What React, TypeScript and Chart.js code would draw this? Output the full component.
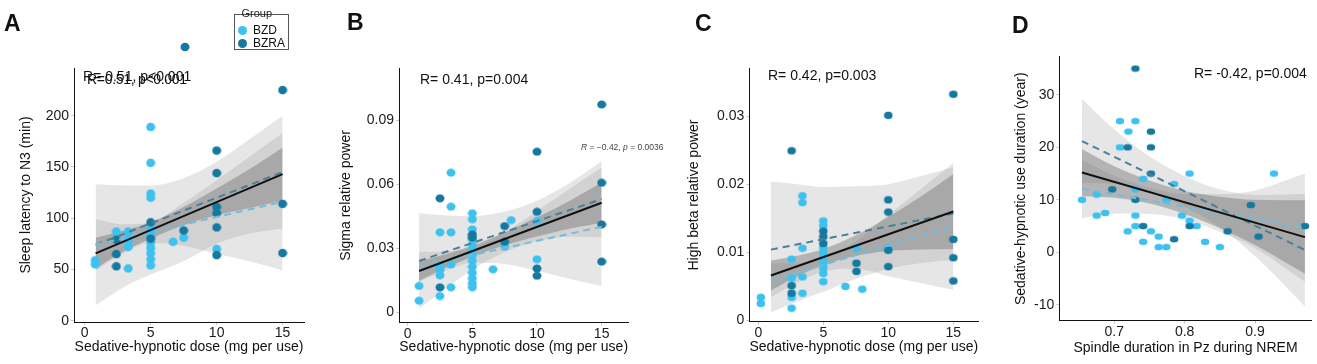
import React, { useEffect, useRef } from "react";
import { Chart, registerables } from "chart.js";
Chart.register(...registerables);

const FONT = "'Liberation Sans', Arial, Helvetica, sans-serif";
const BZD_COLOR = "#3DC1EF";
const BZRA_COLOR = "#15789F";

// ---------------- Panel A : Sleep latency to N3 ----------------
const A_BZD_X = [0.8, 0.8, 2.4, 3.3, 3.3, 3.3, 3.3, 3.3, 5, 5, 5, 5, 5, 5, 5, 5, 5, 5, 5, 5, 6.7, 7.5, 10];
const A_BZD_Y = [59, 55, 87, 87, 83, 77, 72, 51, 189, 154, 124, 120, 90, 86, 82, 76, 71, 66, 60, 54, 77, 81, 70];
const A_BZRA_X = [2.4, 2.4, 2.4, 5, 5, 7.5, 7.6, 10, 10, 10, 10, 10, 10, 15, 15, 15];
const A_BZRA_Y = [79, 65, 53, 96, 80, 88, 267, 166, 144, 111, 105, 91, 64, 225, 114, 66];
const A_FIT_X = [0.83, 15];
const A_FIT_ALL = [65.7, 143];
const A_FIT_BZD = [74, 116];
const A_FIT_BZRA = [74, 145];
const A_BAND_X = [0.83, 3, 5, 7.5, 10, 12.5, 15];
const A_BZRA_HI = [133, 132, 132, 139, 155, 177, 200];
const A_BZRA_LO = [15, 33, 45, 58, 75, 85, 90];
const A_BZD_HI = [99, 94, 96, 115, 137, 160, 183];
const A_BZD_LO = [49, 66, 76, 73, 65, 58, 49];
const A_ALL_HI = [81, 88, 96, 111, 129, 148, 169];
const A_ALL_LO = [51, 68, 80, 93, 103, 110, 117];
const A_X_TICKS = [0, 5, 10, 15];
const A_Y_TICKS = [0, 50, 100, 150, 200];

// ---------------- Panel B : Sigma relative power ----------------
const B_BZD_X = [0.88, 0.88, 2.5, 2.5, 2.5, 2.5, 2.5, 3.35, 3.35, 3.35, 3.35, 3.35, 5, 5, 5, 5, 5, 5, 5, 5, 5, 5, 5, 5, 5, 6.6, 7.5, 8, 10, 10];
const B_BZD_Y = [0.0124, 0.0055, 0.0375, 0.0219, 0.0199, 0.0174, 0.0077, 0.0654, 0.0495, 0.0375, 0.0225, 0.0118, 0.0464, 0.0436, 0.0389, 0.0342, 0.0316, 0.0292, 0.0269, 0.0242, 0.0214, 0.0186, 0.016, 0.0136, 0.0118, 0.0202, 0.0308, 0.0432, 0.0428, 0.0249];
const B_BZRA_X = [2.5, 2.5, 5, 5, 7.5, 7.5, 10, 10, 10, 10, 15, 15, 15, 15];
const B_BZRA_Y = [0.0534, 0.0118, 0.0365, 0.0351, 0.0404, 0.0331, 0.0752, 0.0471, 0.0206, 0.0172, 0.0973, 0.0607, 0.0412, 0.0238];
const B_FIT_X = [0.88, 15];
const B_FIT_ALL = [0.0194, 0.0513];
const B_FIT_BZD = [0.0214, 0.0401];
const B_FIT_BZRA = [0.0241, 0.053];
const B_BAND_X = [0.88, 3, 5, 7.5, 10, 12.5, 15];
const B_BZRA_HI = [0.0464, 0.0454, 0.045, 0.0472, 0.0523, 0.0604, 0.0708];
const B_BZRA_LO = [0.0018, 0.0114, 0.02, 0.0282, 0.0333, 0.0354, 0.0352];
const B_BZD_HI = [0.0284, 0.0287, 0.0305, 0.0377, 0.0475, 0.0578, 0.0678];
const B_BZD_LO = [0.0144, 0.0197, 0.0233, 0.0227, 0.0195, 0.0158, 0.0124];
const B_ALL_HI = [0.0239, 0.0274, 0.0313, 0.0374, 0.0445, 0.0522, 0.0608];
const B_ALL_LO = [0.0149, 0.021, 0.0261, 0.0314, 0.0355, 0.0392, 0.0418];
const B_X_TICKS = [0, 5, 10, 15];
const B_Y_TICKS = [0, 0.03, 0.06, 0.09];

// ---------------- Panel C : High beta relative power ----------------
const C_BZD_X = [0.2, 0.2, 2.56, 2.56, 2.56, 2.56, 3.4, 3.4, 3.4, 3.4, 3.4, 5, 5, 5, 5, 5, 5, 5, 5, 5, 6.7, 7.55, 8, 10];
const C_BZD_Y = [0.0034, 0.0025, 0.009, 0.0062, 0.0034, 0.0018, 0.0183, 0.0173, 0.0106, 0.0064, 0.004, 0.0146, 0.0139, 0.0107, 0.0099, 0.0091, 0.0084, 0.0077, 0.0069, 0.0057, 0.005, 0.0106, 0.0046, 0.0107];
const C_BZRA_X = [2.56, 2.56, 2.56, 5, 5, 5, 7.55, 7.55, 10, 10, 10, 10, 10, 15, 15, 15, 15];
const C_BZRA_Y = [0.0249, 0.0051, 0.004, 0.0131, 0.0123, 0.0113, 0.0084, 0.0072, 0.0301, 0.0177, 0.0159, 0.0103, 0.0079, 0.0332, 0.0119, 0.0092, 0.0058];
const C_FIT_X = [0.97, 15];
const C_FIT_ALL = [0.0066, 0.016];
const C_FIT_BZD = [0.0059, 0.0138];
const C_FIT_BZRA = [0.0104, 0.0157];
const C_BAND_X = [0.97, 3, 5, 7.5, 10, 12.5, 15];
const C_BZRA_HI = [0.0204, 0.02, 0.0196, 0.0197, 0.02, 0.0212, 0.0225];
const C_BZRA_LO = [0.0012, 0.0028, 0.0042, 0.0061, 0.0076, 0.0084, 0.0089];
const C_BZD_HI = [0.0084, 0.0084, 0.0092, 0.0116, 0.0155, 0.0193, 0.0231];
const C_BZD_LO = [0.0034, 0.0056, 0.0072, 0.0076, 0.0065, 0.0055, 0.0045];
const C_ALL_HI = [0.0088, 0.0095, 0.0105, 0.0125, 0.0152, 0.0182, 0.0215];
const C_ALL_LO = [0.0044, 0.0065, 0.0081, 0.0095, 0.0102, 0.0104, 0.0105];
const C_X_TICKS = [0, 5, 10, 15];
const C_Y_TICKS = [0, 0.01, 0.02, 0.03];

// ---------------- Panel D : use duration vs spindle duration ----------------
const D_BZD_X = [0.654, 0.675, 0.675, 0.687, 0.708, 0.708, 0.72, 0.719, 0.73, 0.73, 0.73, 0.73, 0.741, 0.741, 0.752, 0.763, 0.763, 0.774, 0.774, 0.785, 0.796, 0.807, 0.807, 0.817, 0.829, 0.85, 0.927];
const D_BZD_Y = [10, 11, 7, 7.5, 25, 20, 23, 4, 25, 12, 7, 5, 14, 2, 4, 3, 1, 1, 10, 13, 7, 15, 6, 5, 2, 1, 15];
const D_BZRA_X = [0.73, 0.719, 0.697, 0.73, 0.741, 0.752, 0.752, 0.752, 0.785, 0.807, 0.861, 0.894, 0.905, 0.971];
const D_BZRA_Y = [35, 20, 12, 10, 5, 23, 20, 15, 2.5, 5, 4, 9, 3, 5];
const D_FIT_X = [0.654, 0.971];
const D_FIT_ALL = [15.2, 2.9];
const D_FIT_BZD = [12.1, 4.7];
const D_FIT_BZRA = [21.2, 0.44];
const D_BAND_X = [0.654, 0.7, 0.75, 0.8, 0.85, 0.9, 0.971];
const D_BZRA_HI = [29.2, 23.4, 18.3, 14.5, 12.0, 10.9, 11.1];
const D_BZRA_LO = [13.2, 13.0, 11.5, 8.7, 4.8, -0.7, -10.3];
const D_BZD_HI = [17.7, 14.6, 12.3, 11.1, 11.1, 11.8, 15.0];
const D_BZD_LO = [6.5, 7.4, 7.3, 6.3, 3.9, 0.8, -5.6];
const D_ALL_HI = [19.7, 16.4, 13.7, 11.7, 10.6, 10.0, 9.9];
const D_ALL_LO = [10.7, 10.4, 9.3, 7.3, 4.6, 1.4, -4.1];
const D_X_TICKS = [0.7, 0.8, 0.9];
const D_Y_TICKS = [-10, 0, 10, 20, 30];

type PanelData = {
  bzdX: number[]; bzdY: number[]; bzraX: number[]; bzraY: number[];
  fitX: number[]; fitAll: number[]; fitBzd: number[]; fitBzra: number[];
  bandX: number[]; bzraHi: number[]; bzraLo: number[]; bzdHi: number[]; bzdLo: number[]; allHi: number[]; allLo: number[];
  xTicks: number[]; yTicks: number[];
};

type Layout = {
  left: number; width: number; padTop: number; padRight: number; yW: number; xH: number;
  xMin: number; xMax: number; yMin: number; yMax: number; yTitlePad: number; xTitlePad: number;
  xTitle: string; yTitle: string; dotW: number; dotH: number;
};

const PANELS: { data: PanelData; layout: Layout }[] = [
  {
    data: { bzdX: A_BZD_X, bzdY: A_BZD_Y, bzraX: A_BZRA_X, bzraY: A_BZRA_Y, fitX: A_FIT_X, fitAll: A_FIT_ALL, fitBzd: A_FIT_BZD, fitBzra: A_FIT_BZRA, bandX: A_BAND_X, bzraHi: A_BZRA_HI, bzraLo: A_BZRA_LO, bzdHi: A_BZD_HI, bzdLo: A_BZD_LO, allHi: A_ALL_HI, allLo: A_ALL_LO, xTicks: A_X_TICKS, yTicks: A_Y_TICKS },
    layout: { left: 0, width: 330, padTop: 68, padRight: 26, yW: 74, xH: 42, xMin: -0.81, xMax: 16.62, yMin: -1.27, yMax: 246.5, yTitlePad: 17.6, xTitlePad: 8.6, xTitle: "Sedative-hypnotic dose (mg per use)", yTitle: "Sleep latency to N3 (min)", dotW: 9, dotH: 8.5 },
  },
  {
    data: { bzdX: B_BZD_X, bzdY: B_BZD_Y, bzraX: B_BZRA_X, bzraY: B_BZRA_Y, fitX: B_FIT_X, fitAll: B_FIT_ALL, fitBzd: B_FIT_BZD, fitBzra: B_FIT_BZRA, bandX: B_BAND_X, bzraHi: B_BZRA_HI, bzraLo: B_BZRA_LO, bzdHi: B_BZD_HI, bzdLo: B_BZD_LO, allHi: B_ALL_HI, allLo: B_ALL_LO, xTicks: B_X_TICKS, yTicks: B_Y_TICKS },
    layout: { left: 330, width: 330, padTop: 68.3, padRight: 31.7, yW: 69, xH: 41.3, xMin: -0.67, xMax: 17.06, yMin: -0.00477, yMax: 0.1142, yTitlePad: 7.6, xTitlePad: 8.6, xTitle: "Sedative-hypnotic dose (mg per use)", yTitle: "Sigma relative power", dotW: 9, dotH: 8 },
  },
  {
    data: { bzdX: C_BZD_X, bzdY: C_BZD_Y, bzraX: C_BZRA_X, bzraY: C_BZRA_Y, fitX: C_FIT_X, fitAll: C_FIT_ALL, fitBzd: C_FIT_BZD, fitBzra: C_FIT_BZRA, bandX: C_BAND_X, bzraHi: C_BZRA_HI, bzraLo: C_BZRA_LO, bzdHi: C_BZD_HI, bzdLo: C_BZD_LO, allHi: C_ALL_HI, allLo: C_ALL_LO, xTicks: C_X_TICKS, yTicks: C_Y_TICKS },
    layout: { left: 660, width: 330, padTop: 68.3, padRight: 11.7, yW: 89.3, xH: 42.3, xMin: -0.69, xMax: 16.92, yMin: -0.000176, yMax: 0.037, yTitlePad: 25.6, xTitlePad: 8.6, xTitle: "Sedative-hypnotic dose (mg per use)", yTitle: "High beta relative power", dotW: 8.5, dotH: 7.5 },
  },
  {
    data: { bzdX: D_BZD_X, bzdY: D_BZD_Y, bzraX: D_BZRA_X, bzraY: D_BZRA_Y, fitX: D_FIT_X, fitAll: D_FIT_ALL, fitBzd: D_FIT_BZD, fitBzra: D_FIT_BZRA, bandX: D_BAND_X, bzraHi: D_BZRA_HI, bzraLo: D_BZRA_LO, bzdHi: D_BZD_HI, bzdLo: D_BZD_LO, allHi: D_ALL_HI, allLo: D_ALL_LO, xTicks: D_X_TICKS, yTicks: D_Y_TICKS },
    layout: { left: 990, width: 327, padTop: 56.7, padRight: 5.3, yW: 69.3, xH: 43.3, xMin: 0.6218, xMax: 0.9806, yMin: -13.02, yMax: 37.26, yTitlePad: 23.1, xTitlePad: 7.6, xTitle: "Spindle duration in Pz during NREM", yTitle: "Sedative-hypnotic use duration (year)", dotW: 8.5, dotH: 6.5 },
  },
];

function xy(xs: number[], ys: number[]) {
  return xs.map((x, i) => ({ x, y: ys[i] }));
}

function makeDot(color: string, w: number, h: number) {
  const c = document.createElement("canvas");
  c.width = Math.ceil(w) + 1;
  c.height = Math.ceil(h) + 1;
  const ctx = c.getContext("2d")!;
  ctx.fillStyle = color;
  ctx.beginPath();
  ctx.ellipse(c.width / 2, c.height / 2, w / 2, h / 2, 0, 0, Math.PI * 2);
  ctx.fill();
  return c;
}

function band(xs: number[], hi: number[], lo: number[], fill: string, order: number): any[] {
  const common = { type: "line", borderColor: "rgba(0,0,0,0)", borderWidth: 0, pointRadius: 0, cubicInterpolationMode: "monotone", order };
  return [
    { ...common, data: xy(xs, hi), fill: false },
    { ...common, data: xy(xs, lo), fill: "-1", backgroundColor: fill },
  ];
}

function buildConfig(d: PanelData, L: Layout): any {
  const tickFont = { family: FONT, size: 14 };
  const titleFont = { family: FONT, size: 14 };
  const gridOpts = { display: true, drawOnChartArea: false, drawTicks: true, tickLength: 3, color: "#c8c8c8" };
  const borderOpts = { display: true, color: "#111", width: 1 };
  const dotBzd = makeDot(BZD_COLOR, L.dotW, L.dotH);
  const dotBzra = makeDot(BZRA_COLOR, L.dotW, L.dotH);
  const datasets: any[] = [
    ...band(d.bandX, d.bzraHi, d.bzraLo, "rgba(130,130,130,0.2)", 10),
    ...band(d.bandX, d.bzdHi, d.bzdLo, "rgba(130,130,130,0.2)", 9),
    ...band(d.bandX, d.allHi, d.allLo, "rgba(90,90,90,0.35)", 8),
    { type: "scatter", data: xy(d.bzdX, d.bzdY), pointStyle: dotBzd, pointRadius: 4, pointHoverRadius: 40, backgroundColor: BZD_COLOR, borderColor: BZD_COLOR, borderWidth: 0, clip: false, order: 3 },
    { type: "scatter", data: xy(d.bzraX, d.bzraY), pointStyle: dotBzra, pointRadius: 4, pointHoverRadius: 40, backgroundColor: BZRA_COLOR, borderColor: BZRA_COLOR, borderWidth: 0, clip: false, order: 2 },
    { type: "line", data: xy(d.fitX, d.fitBzd), borderColor: "#74BCDB", borderWidth: 2, borderDash: [7, 5], pointRadius: 0, fill: false, order: 1 },
    { type: "line", data: xy(d.fitX, d.fitBzra), borderColor: "#4A7F99", borderWidth: 2, borderDash: [7, 5], pointRadius: 0, fill: false, order: 1 },
    { type: "line", data: xy(d.fitX, d.fitAll), borderColor: "#111111", borderWidth: 2, pointRadius: 0, fill: false, order: 0 },
  ];
  return {
    type: "scatter",
    data: { datasets },
    options: {
      animation: false,
      responsive: false,
      devicePixelRatio: 1,
      events: [],
      layout: { autoPadding: false, padding: { left: 0, top: L.padTop, right: L.padRight, bottom: 0 } },
      plugins: { legend: { display: false }, tooltip: { enabled: false } },
      scales: {
        x: {
          type: "linear",
          min: L.xMin,
          max: L.xMax,
          afterBuildTicks: (s: any) => { s.ticks = d.xTicks.map((v) => ({ value: v })); },
          afterFit: (s: any) => { s.height = L.xH; },
          ticks: { callback: (v: any) => String(v), font: tickFont, color: "#1a1a1a", padding: 0, autoSkip: false, maxRotation: 0 },
          grid: gridOpts,
          border: borderOpts,
          title: { display: true, text: L.xTitle, font: titleFont, color: "#111", padding: { top: 0, bottom: L.xTitlePad } },
        },
        y: {
          type: "linear",
          min: L.yMin,
          max: L.yMax,
          afterBuildTicks: (s: any) => { s.ticks = d.yTicks.map((v) => ({ value: v })); },
          afterFit: (s: any) => { s.width = L.yW; },
          ticks: { callback: (v: any) => String(v), font: tickFont, color: "#1a1a1a", padding: 2, autoSkip: false },
          grid: gridOpts,
          border: borderOpts,
          title: { display: true, text: L.yTitle, font: titleFont, color: "#111", padding: { top: L.yTitlePad, bottom: 0 } },
        },
      },
    },
  };
}

function Panel({ data, layout }: { data: PanelData; layout: Layout }) {
  const ref = useRef<HTMLCanvasElement>(null);
  useEffect(() => {
    const chart = new Chart(ref.current as HTMLCanvasElement, buildConfig(data, layout));
    return () => chart.destroy();
  }, []);
  return (
    <canvas
      ref={ref}
      width={layout.width}
      height={364}
      style={{ position: "absolute", left: layout.left, top: 0, width: layout.width, height: 364 }}
    />
  );
}

// text placed by baseline (line-height = font size)
function Txt({ x, base, size, children, bold, italic, color, spacing }: any) {
  return (
    <div
      style={{
        position: "absolute",
        left: x,
        top: base - 0.8465 * size,
        fontFamily: FONT,
        fontSize: size,
        lineHeight: size + "px",
        fontWeight: bold ? 700 : 400,
        fontStyle: italic ? "italic" : "normal",
        color: color || "#111",
        whiteSpace: "nowrap",
        letterSpacing: spacing || 0,
      }}
    >
      {children}
    </div>
  );
}

export default function App() {
  return (
    <div style={{ position: "absolute", left: 0, top: 0, width: 1317, height: 364, background: "#fff", overflow: "hidden" }}>
      {PANELS.map((p, i) => (
        <Panel key={i} data={p.data} layout={p.layout} />
      ))}
      {/* panel letters */}
      <Txt x={4} base={31.5} size={23} bold>A</Txt>
      <Txt x={347} base={30} size={23} bold>B</Txt>
      <Txt x={695} base={31} size={23} bold>C</Txt>
      <Txt x={1012} base={33} size={23} bold>D</Txt>
      {/* correlation annotations */}
      <Txt x={83} base={80.5} size={14}>R= 0.51, p&lt;0.001</Txt>
      <Txt x={87} base={84} size={14} spacing={-0.3}>R=0.51, p&lt;0.001</Txt>
      <Txt x={420} base={84} size={14}>R= 0.41, p=0.004</Txt>
      <Txt x={581} base={150} size={8.5} color="#444">
        <i>R</i> = −0.42, <i>p</i> = 0.0036
      </Txt>
      <Txt x={768} base={80} size={14}>R= 0.42, p=0.003</Txt>
      <Txt x={1194} base={77.7} size={14}>R= -0.42, p=0.004</Txt>
      {/* legend */}
      <div style={{ position: "absolute", left: 234, top: 14, width: 55, height: 36, boxSizing: "border-box", border: "1px solid #555" }} />
      <Txt x={241.5} base={17.5} size={11} color="#222">Group</Txt>
      <div style={{ position: "absolute", left: 237.8, top: 25.8, width: 9, height: 9, borderRadius: "50%", background: BZD_COLOR }} />
      <div style={{ position: "absolute", left: 237.8, top: 38.5, width: 9, height: 9, borderRadius: "50%", background: BZRA_COLOR }} />
      <Txt x={253} base={34.5} size={12} color="#111">BZD</Txt>
      <Txt x={253} base={47.3} size={12} color="#111">BZRA</Txt>
    </div>
  );
}
